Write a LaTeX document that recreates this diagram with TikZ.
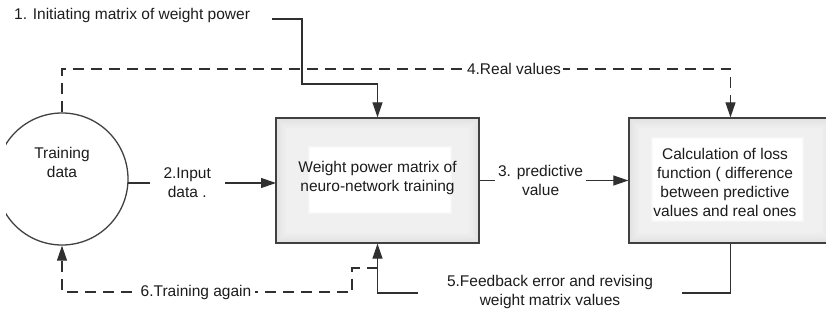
\documentclass[tikz,border=0pt]{standalone}
\usepackage{fontspec}
\setmainfont{Liberation Sans}
\usetikzlibrary{arrows.meta}
\definecolor{ink}{HTML}{1C1C1C}
\definecolor{linec}{HTML}{303030}
\definecolor{frame}{HTML}{404040}

% white patch with a soft rim, laid behind the text of a panel
\newcommand{\softpatch}[4]{%
  \foreach \k in {0,...,3}{%
    \pgfmathtruncatemacro{\gg}{6-2*\k}%
    \fill[black!\gg] (#1-3+\k,#2-3+\k) rectangle (#3+3-\k,#4+3-\k);%
  }%
}

\begin{document}
\begin{tikzpicture}[x=1pt,y=-1pt,
  txt/.style={font=\fontsize{15.5}{19}\selectfont, text=ink, align=center, inner sep=0pt},
  gap/.style={txt, fill=white},
  conn/.style={draw=linec, line width=1.2pt},
  arr/.style={conn, -{Triangle[length=15pt,width=10pt]}},
  dsh/.style={dash pattern=on 11pt off 7pt},
  panel/.style={rectangle, draw=frame, line width=1.3pt,
    minimum width=203pt, minimum height=125pt, inner sep=0pt,
    path picture={
      \foreach \i in {0,...,4}{
        \pgfmathtruncatemacro{\g}{11-\i}
        \fill[black!\g]
          ([xshift=2*\i pt, yshift=-2*\i pt]path picture bounding box.north west)
          rectangle
          ([xshift=-2*\i pt, yshift=2*\i pt]path picture bounding box.south east);
      }
      \fill[black!6]
        ([xshift=10pt, yshift=-10pt]path picture bounding box.north west)
        rectangle
        ([xshift=-10pt, yshift=10pt]path picture bounding box.south east);
    }},
  blob/.style={circle, draw=frame, line width=1.3pt, minimum size=132pt, inner sep=0pt}
]
\useasboundingbox (0,0) rectangle (826,320);
\clip (6,0) rectangle (826,320);

% main blocks
\node[blob] (train) at (62,179) {};
\node[txt] (traintxt) at (62,162) {Training\\data};

\node[panel] (wmat) at (377.5,180.5) {};
\softpatch{310}{148}{450}{212}
\node[txt] (wmattxt) at (377.5,178) {Weight power matrix of\\neuro-network training};

\node[panel] (loss) at (730.5,180.5) {};
\softpatch{653}{139}{802}{220}
\node[txt] (losstxt) at (725,182) {Calculation of loss\\function ( difference\\between predictive\\values and real ones};

% 1. initial weights
\node[txt, anchor=west] (init) at (14,15) {1. Initiating matrix of weight power};
\coordinate (c1) at (272,19);
\coordinate (c1b) at (302,84);
\draw[arr] (c1) -| (c1b) -| (wmat.north);

% 2. input data
\coordinate (inA) at (128,183);
\coordinate (inB) at (276,183);
\draw[arr] (inA) -- node[gap, pos=0.4, inner xsep=14pt, inner ysep=2pt] (inlbl) {2.Input\\data .} (inB);

% 3. predictive value
\draw[arr] (wmat.east) -- node[gap, pos=0.41, inner xsep=3pt, inner ysep=2pt] (prlbl) {3. predictive\\value} (loss.west);

% 4. real values
\coordinate (rv) at (500,69);
\draw[arr, dsh] (train.north) |- (rv) -| (loss.north);
\node[gap, inner xsep=2pt, inner ysep=2pt] (rvlbl) at (514,69) {4.Real values};

% 5. feedback error
\coordinate (fb) at (377.5,293);
\draw[arr] (loss.south) |- (fb) -- (wmat.south);
\node[gap, inner xsep=29pt, inner ysep=2pt] (fblbl) at (550,292) {5.Feedback error and revising\\weight matrix values};

% 6. training again
\coordinate (ta) at (377.5,268);
\coordinate (tb) at (352,292);
\draw[arr, dsh] (ta) -| (tb) -| (train.south);
\node[gap, inner xsep=4pt, inner ysep=2pt] (talbl) at (196,292) {6.Training again};
\end{tikzpicture}
\end{document}
